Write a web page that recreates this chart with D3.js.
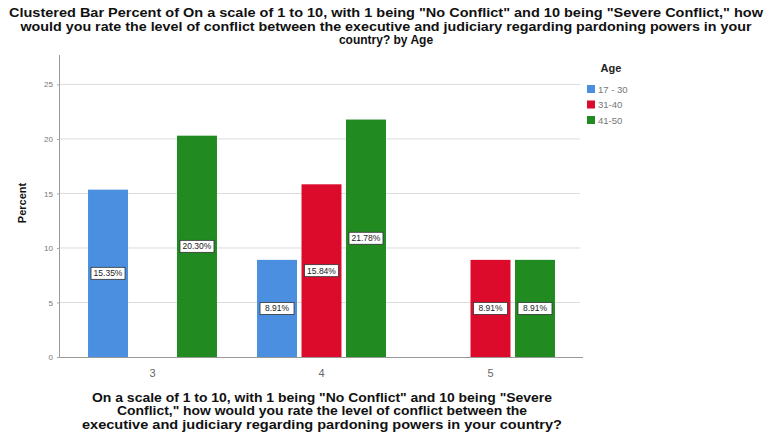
<!DOCTYPE html>
<html>
<head>
<meta charset="utf-8">
<script src="https://cdn.jsdelivr.net/npm/d3@7"></script>
<style>
  html, body { margin: 0; padding: 0; background: #fff; }
  svg { display: block; font-family: "Liberation Sans", Arial, sans-serif; }
</style>
</head>
<body>
<svg id="chart" width="771" height="444"></svg>
<script>
// Response categories on the 1-10 conflict scale
const categories = ["3", "4", "5"];
// Age groups
const ageGroups = ["17 - 30", "31-40", "41-50"];
// Percent of each age group per category (null = no bar)
const pct1730 = [15.35, 8.91, null];
const pct3140 = [null, 15.84, 8.91];
const pct4150 = [20.30, 21.78, 8.91];
const yTicks = [0, 5, 10, 15, 20, 25];

const titleLines = [
  "Clustered Bar Percent of On a scale of 1 to 10, with 1 being \"No Conflict\" and 10 being \"Severe Conflict,\" how",
  "would you rate the level of conflict between the executive and judiciary regarding pardoning powers in your",
  "country? by Age"
];
const xTitleLines = [
  "On a scale of 1 to 10, with 1 being \"No Conflict\" and 10 being \"Severe",
  "Conflict,\" how would you rate the level of conflict between the",
  "executive and judiciary regarding pardoning powers in your country?"
];

const colors = ["#4a8fe0", "#dc0b2c", "#218b21"];
const seriesValues = [pct1730, pct3140, pct4150];

const svg = d3.select("#chart");
const plot = { left: 60, right: 583, top: 55, bottom: 357 };

const x0 = d3.scaleBand().domain(categories)
  .range([68, 575]).paddingInner(0.237).paddingOuter(0.1185);
const x1 = d3.scaleBand().domain(ageGroups)
  .range([0, x0.bandwidth()]).paddingInner(0.101);
const y = d3.scaleLinear().domain([0, 27.7]).range([plot.bottom, plot.top]);
const color = d3.scaleOrdinal().domain(ageGroups).range(colors);

// Title (first two lines stretched to the full width)
svg.append("g").selectAll("text").data(titleLines).join("text")
  .attr("x", 386).attr("y", (d, i) => 17 + i * 13.6)
  .attr("text-anchor", "middle")
  .attr("font-size", 12).attr("font-weight", "bold").attr("fill", "#111")
  .each(function(d, i) {
    if (i < 2) d3.select(this)
      .attr("textLength", [754, 731][i])
      .attr("lengthAdjust", "spacingAndGlyphs");
  })
  .text(d => d);

// Gridlines
svg.append("g").selectAll("line").data(yTicks.filter(t => t > 0)).join("line")
  .attr("x1", plot.left).attr("x2", 580)
  .attr("y1", d => y(d)).attr("y2", d => y(d))
  .attr("stroke", "#dcdcdc").attr("stroke-width", 1);

// Y axis
const yAxis = svg.append("g").attr("transform", `translate(${plot.left},0)`)
  .call(d3.axisLeft(y).tickValues(yTicks).tickSize(3).tickPadding(4));
yAxis.select(".domain").attr("stroke", "#999").attr("d", `M-0.5,${plot.top}V${plot.bottom}`);
yAxis.selectAll(".tick line").attr("stroke", "#aaa");
yAxis.selectAll(".tick text").attr("font-size", 8).attr("fill", "#777")
  .attr("font-family", "Liberation Sans, Arial, sans-serif");

// Bars
const barData = [];
categories.forEach((c, ci) => {
  ageGroups.forEach((g, gi) => {
    const v = seriesValues[gi][ci];
    if (v != null) barData.push({ cat: c, group: g, value: v });
  });
});

const bars = svg.append("g").selectAll("g").data(barData).join("g")
  .attr("transform", d => `translate(${x0(d.cat) + x1(d.group)},0)`);
bars.append("rect")
  .attr("x", 0).attr("width", x1.bandwidth())
  .attr("y", d => y(d.value)).attr("height", d => y(0) - y(d.value))
  .attr("fill", d => color(d.group));

// Value labels in white boxes at bar middle
bars.each(function(d) {
  const g = d3.select(this);
  const cx = x1.bandwidth() / 2;
  const cy = (y(d.value) + y(0)) / 2;
  const label = d.value.toFixed(2) + "%";
  const w = 34, h = 12;
  g.append("rect").attr("x", cx - w / 2).attr("y", cy - h / 2)
    .attr("width", w).attr("height", h)
    .attr("fill", "#fff").attr("stroke", "#333").attr("stroke-width", 0.8);
  g.append("text").attr("x", cx).attr("y", cy + 3)
    .attr("text-anchor", "middle").attr("font-size", 8.5).attr("fill", "#222")
    .text(label);
});

// X axis
const xAxis = svg.append("g").attr("transform", `translate(0,${plot.bottom})`)
  .call(d3.axisBottom(x0).tickSize(0).tickPadding(12));
xAxis.select(".domain").attr("stroke", "#999").attr("d", `M${plot.left},0.5H${plot.right}`);
xAxis.selectAll(".tick text").attr("font-size", 11).attr("fill", "#666")
  .attr("font-family", "Liberation Sans, Arial, sans-serif");

// Axis titles
svg.append("text")
  .attr("transform", "translate(26,203) rotate(-90)")
  .attr("text-anchor", "middle").attr("font-size", 11).attr("font-weight", "bold").attr("fill", "#111")
  .text("Percent");

svg.append("g").selectAll("text").data(xTitleLines).join("text")
  .attr("x", 322).attr("y", (d, i) => 402 + i * 13.3)
  .attr("text-anchor", "middle")
  .attr("font-size", 12).attr("font-weight", "bold").attr("fill", "#111")
  .attr("textLength", (d, i) => [460, 410, 480][i])
  .attr("lengthAdjust", "spacingAndGlyphs")
  .text(d => d);

// Legend
const legend = svg.append("g");
legend.append("text").attr("x", 611).attr("y", 72)
  .attr("text-anchor", "middle").attr("font-size", 11).attr("font-weight", "bold").attr("fill", "#222")
  .text("Age");
const items = legend.selectAll("g.item").data(ageGroups).join("g")
  .attr("transform", (d, i) => `translate(587,${85 + i * 15.5})`);
items.append("rect").attr("width", 8).attr("height", 8).attr("fill", d => color(d));
items.append("text").attr("x", 11).attr("y", 7.5)
  .attr("font-size", 9.5).attr("fill", "#777").text(d => d);
</script>
</body>
</html>
